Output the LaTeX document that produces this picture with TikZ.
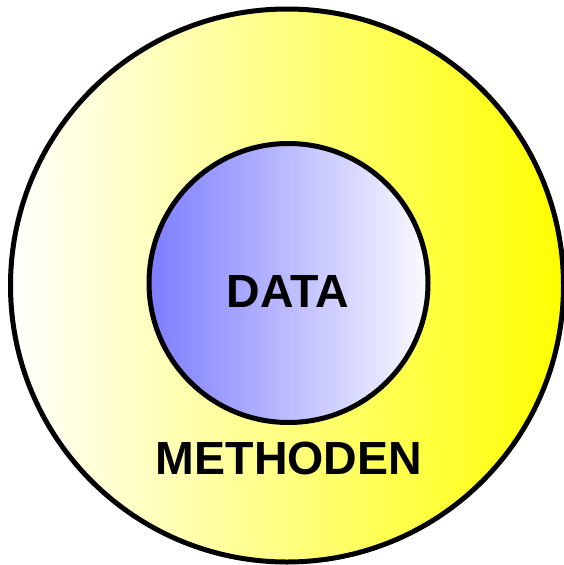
\documentclass[tikz,border=0pt]{standalone}
\usepackage{fontspec}
\setmainfont{Liberation Sans}

\begin{document}
\begin{tikzpicture}[x=1pt,y=-1pt]
        \useasboundingbox (0,0) rectangle (564,565);
        \node[circle,draw,line width=5pt,minimum size=553pt,inner sep=0pt,left color=white,right color=yellow] (methoden) at (287,285.5) {};
        \node[circle,draw,line width=5pt,minimum size=279pt,inner sep=0pt,left color={rgb,255:red,125;green,125;blue,255},right color={rgb,255:red,250;green,250;blue,255}] (data) at (288.5,283) {};
        \node[font=\fontsize{46.5}{52}\selectfont\bfseries] (datatext) at (288,291) {DATA};
        \node[font=\fontsize{46.5}{52}\selectfont\bfseries] (methodentext) at (289,458) {METHODEN};
        \end{tikzpicture}
\end{document}
